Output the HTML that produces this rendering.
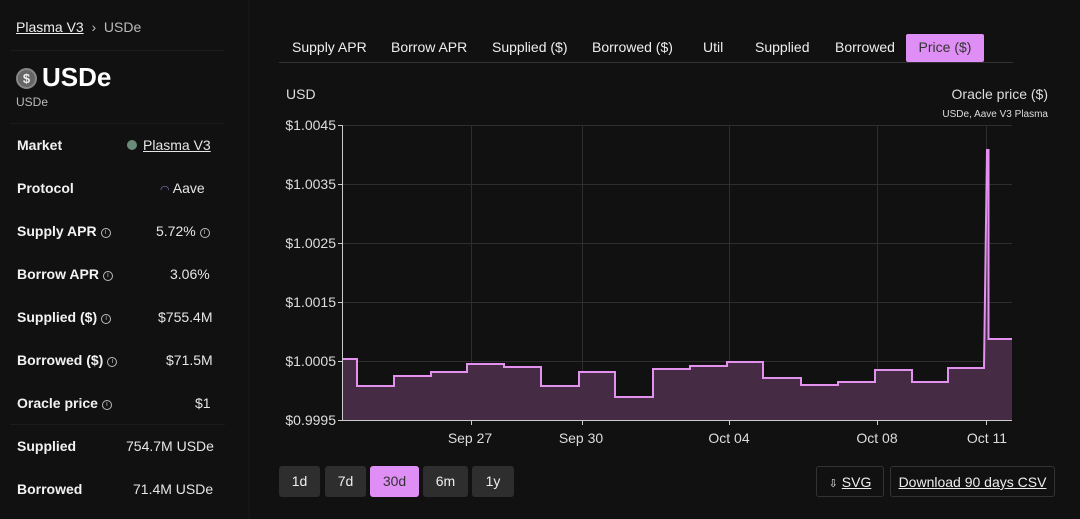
<!DOCTYPE html>
<html><head><meta charset="utf-8"><style>
*{margin:0;padding:0;box-sizing:border-box}
body{width:1080px;height:519px;background:#111;font-family:"Liberation Sans",sans-serif;color:#eee;position:relative;overflow:hidden}
.a{position:absolute;white-space:nowrap}
.lbl{font-weight:bold;font-size:14px;color:#f2f2f2}
.val{font-size:14px;color:#e6e6e6;text-align:right}
.i{display:inline-block;width:10px;height:10px;border:1px solid #bbb;border-radius:50%;font-size:7px;line-height:8px;text-align:center;color:#bbb;vertical-align:2px;margin-left:4px;font-weight:normal}
.sep{position:absolute;left:10px;width:215px;height:1px;background:#1c1c1c}
.tab{position:absolute;top:34px;height:28px;font-size:14px;color:#eee;line-height:27px}
.btn{position:absolute;top:466px;height:31px;background:#2e2e2e;border-radius:3px;font-size:14px;line-height:31px;text-align:center;color:#eee}
</style></head><body>
<div style="position:absolute;left:248px;top:0;width:2px;height:519px;background:#151515"></div>
<div class="a" style="left:16px;top:19px;font-size:14px"><span style="text-decoration:underline">Plasma V3</span><span style="color:#bbb"> &nbsp;›&nbsp; USDe</span></div>
<div class="sep" style="top:50px"></div>
<div class="a" style="left:16px;top:68px;width:21px;height:21px;border-radius:50%;background:#666;border:2px solid #888;color:#eee;font-size:13px;text-align:center;line-height:17px;font-weight:bold">$</div>
<div class="a" style="left:42px;top:62px;font-size:26px;font-weight:bold;color:#fff">USDe</div>
<div class="a" style="left:16px;top:95px;font-size:12px;color:#bbb">USDe</div>
<div class="sep" style="top:123px"></div>
<div class="a lbl" style="left:17px;top:137px">Market</div>
<div class="a val" style="left:127px;top:137px"><span style="display:inline-block;width:10px;height:10px;border-radius:50%;background:#6a8a7a;margin-right:6px"></span><span style="text-decoration:underline">Plasma V3</span></div>
<div class="a lbl" style="left:17px;top:180px">Protocol</div>
<div class="a val" style="left:160px;top:180px"><span style="color:#8a70d0;font-size:11px">◠</span> Aave</div>
<div class="a lbl" style="left:17px;top:223px">Supply APR<span class="i">i</span></div>
<div class="a val" style="left:156px;top:223px">5.72%<span class="i">i</span></div>
<div class="a lbl" style="left:17px;top:266px">Borrow APR<span class="i">i</span></div>
<div class="a val" style="left:170px;top:266px">3.06%</div>
<div class="a lbl" style="left:17px;top:309px">Supplied ($)<span class="i">i</span></div>
<div class="a val" style="left:158px;top:309px">$755.4M</div>
<div class="a lbl" style="left:17px;top:352px">Borrowed ($)<span class="i">i</span></div>
<div class="a val" style="left:166px;top:352px">$71.5M</div>
<div class="a lbl" style="left:17px;top:395px">Oracle price<span class="i">i</span></div>
<div class="a val" style="left:195px;top:395px">$1</div>
<div class="sep" style="top:424px"></div>
<div class="a lbl" style="left:17px;top:438px">Supplied</div>
<div class="a val" style="left:126px;top:438px">754.7M USDe</div>
<div class="a lbl" style="left:17px;top:481px">Borrowed</div>
<div class="a val" style="left:133px;top:481px">71.4M USDe</div>

<div style="position:absolute;left:279px;top:62px;width:734px;height:1px;background:#333"></div>
<div class="tab" style="left:292px">Supply APR</div>
<div class="tab" style="left:391px">Borrow APR</div>
<div class="tab" style="left:492px">Supplied ($)</div>
<div class="tab" style="left:592px">Borrowed ($)</div>
<div class="tab" style="left:703px">Util</div>
<div class="tab" style="left:755px">Supplied</div>
<div class="tab" style="left:835px">Borrowed</div>
<div class="tab" style="left:906px;width:78px;background:#df8ef5;color:#333;text-align:center;border-radius:2px">Price ($)</div>

<svg class="a" style="left:0;top:0" width="1080" height="519">
<g font-family="Liberation Sans,sans-serif" font-size="14" fill="#ddd">
<text x="286" y="99">USD</text>
<text x="1048" y="99" text-anchor="end">Oracle price ($)</text>
<text x="1048" y="117" text-anchor="end" font-size="10">USDe, Aave V3 Plasma</text>
<g text-anchor="end">
<text x="336" y="130">$1.0045</text><text x="336" y="189">$1.0035</text><text x="336" y="248">$1.0025</text>
<text x="336" y="307">$1.0015</text><text x="336" y="366">$1.0005</text><text x="336" y="425">$0.9995</text>
</g>
<g text-anchor="middle">
<text x="470" y="443">Sep 27</text><text x="581" y="443">Sep 30</text><text x="729" y="443">Oct 04</text>
<text x="877" y="443">Oct 08</text><text x="987" y="443">Oct 11</text>
</g>
<text x="1006" y="414" text-anchor="end" font-size="10">aavescan.com</text>
</g>
<g stroke="#2e2e2e" stroke-width="1">
<line x1="342" y1="125.5" x2="1012" y2="125.5"/><line x1="342" y1="184.5" x2="1012" y2="184.5"/>
<line x1="342" y1="243.5" x2="1012" y2="243.5"/><line x1="342" y1="302.5" x2="1012" y2="302.5"/>
<line x1="342" y1="361.5" x2="1012" y2="361.5"/>
<line x1="471.5" y1="125" x2="471.5" y2="420"/><line x1="582.5" y1="125" x2="582.5" y2="420"/>
<line x1="729.5" y1="125" x2="729.5" y2="420"/><line x1="877.5" y1="125" x2="877.5" y2="420"/>
<line x1="986.5" y1="125" x2="986.5" y2="420"/>
</g>
<g stroke="#ccc"><line x1="338" y1="125.5" x2="342" y2="125.5"/><line x1="338" y1="184.5" x2="342" y2="184.5"/><line x1="338" y1="243.5" x2="342" y2="243.5"/><line x1="338" y1="302.5" x2="342" y2="302.5"/><line x1="338" y1="361.5" x2="342" y2="361.5"/><line x1="338" y1="420.5" x2="342" y2="420.5"/>
<line x1="471.5" y1="420" x2="471.5" y2="425"/><line x1="582.5" y1="420" x2="582.5" y2="425"/><line x1="729.5" y1="420" x2="729.5" y2="425"/><line x1="877.5" y1="420" x2="877.5" y2="425"/><line x1="986.5" y1="420" x2="986.5" y2="425"/></g>
<path d="M342,420 L342,359 L357,359 L357,386 L394,386 L394,376 L431,376 L431,372 L467,372 L467,364 L504,364 L504,367 L541,367 L541,386 L579,386 L579,372 L615,372 L615,397 L653,397 L653,369 L690,369 L690,366 L727,366 L727,362 L763,362 L763,378 L801,378 L801,385 L838,385 L838,382 L875,382 L875,370 L912,370 L912,382 L948,382 L948,368 L984,368 L987,150 L988.5,150 L988.5,339 L1012,339 L1012,420 Z" fill="#452c44" stroke="none"/>
<path d="M342,359 L357,359 L357,386 L394,386 L394,376 L431,376 L431,372 L467,372 L467,364 L504,364 L504,367 L541,367 L541,386 L579,386 L579,372 L615,372 L615,397 L653,397 L653,369 L690,369 L690,366 L727,366 L727,362 L763,362 L763,378 L801,378 L801,385 L838,385 L838,382 L875,382 L875,370 L912,370 L912,382 L948,382 L948,368 L984,368 L987,150 L988.5,150 L988.5,339 L1012,339" fill="none" stroke="#e291ef" stroke-width="2"/>
<line x1="342.5" y1="125" x2="342.5" y2="420" stroke="#ccc"/>
<line x1="342" y1="420.5" x2="1012" y2="420.5" stroke="#ccc"/>
</svg>

<div class="btn" style="left:279px;width:41px">1d</div>
<div class="btn" style="left:325px;width:41px">7d</div>
<div class="btn" style="left:370px;width:49px;background:#df8ef5;color:#333">30d</div>
<div class="btn" style="left:423px;width:45px">6m</div>
<div class="btn" style="left:472px;width:42px">1y</div>
<div class="btn" style="left:816px;width:68px;background:#111;border:1px solid #333"><span style="font-size:11px">⇩</span> <u>SVG</u></div>
<div class="btn" style="left:890px;width:165px;background:#111;border:1px solid #333"><u>Download 90 days CSV</u></div>
</body></html>
